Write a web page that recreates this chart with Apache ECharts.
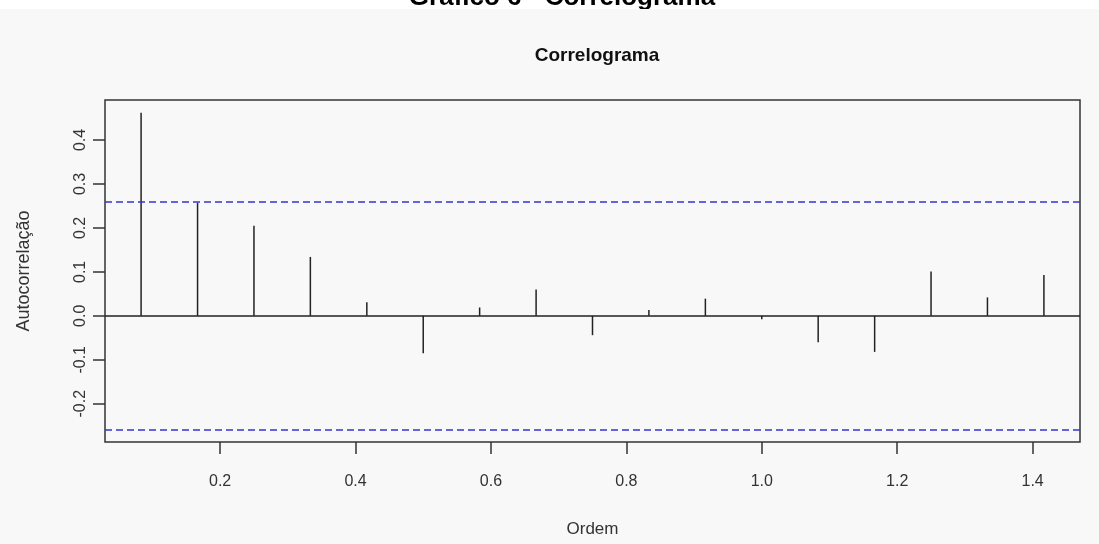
<!DOCTYPE html>
<html>
<head>
<meta charset="utf-8">
<script src="https://cdn.jsdelivr.net/npm/echarts@6/dist/echarts.min.js"></script>
<style>html,body{margin:0;padding:0;background:#fff}#c{width:1099px;height:544px}</style>
</head>
<body>
<div id="c"></div>
<script>
// Data
const lags = [0.0833, 0.1667, 0.25, 0.3333, 0.4167, 0.5, 0.5833, 0.6667, 0.75, 0.8333, 0.9167, 1.0, 1.0833, 1.1667, 1.25, 1.3333, 1.4167];
const acf  = [0.462, 0.257, 0.205, 0.134, 0.031, -0.085, 0.019, 0.060, -0.044, 0.013, 0.039, -0.008, -0.060, -0.082, 0.101, 0.042, 0.093];
const ciLimit = 0.257;
const xTicks = [0.2, 0.4, 0.6, 0.8, 1.0, 1.2, 1.4];
const yTicks = [-0.2, -0.1, 0.0, 0.1, 0.2, 0.3, 0.4];
const chartTitle = 'Correlograma';
const pageTitle = 'Gráfico 6 - Correlograma';
const xName = 'Ordem';
const yName = 'Autocorrelação';

const FONT = '"Liberation Sans", Arial, sans-serif';
const chart = echarts.init(document.getElementById('c'), null, {renderer: 'canvas'});
const option = {
  backgroundColor: '#ffffff',
  animation: false,
  graphic: [
    {type: 'text', z: -101, style: {text: pageTitle, x: 562, y: -2, align: 'center', verticalAlign: 'middle', font: 'bold 26px ' + FONT, fill: '#000'}},
    {type: 'rect', z: -100, shape: {x: 0, y: 9, width: 1099, height: 535}, style: {fill: '#f8f8f8'}}
  ],
  title: {
    text: chartTitle, left: 592, top: 41, textAlign: 'center',
    textStyle: {fontFamily: FONT, fontSize: 19, fontWeight: 'bold', color: '#111'}
  },
  grid: {left: 105, right: 19, top: 100, bottom: 102, show: true, borderColor: '#333', borderWidth: 1.5, backgroundColor: 'transparent'},
  xAxis: {
    type: 'value', min: 0.03, max: 1.47,
    name: xName, nameLocation: 'middle', nameGap: 79,
    nameTextStyle: {fontFamily: FONT, fontSize: 17, color: '#333'},
    axisLine: {show: false, onZero: false},
    splitLine: {show: false},
    axisTick: {show: true, length: 12, customValues: xTicks, lineStyle: {color: '#333', width: 1.5}},
    axisLabel: {customValues: xTicks, formatter: v => v.toFixed(1), margin: 32, fontFamily: FONT, fontSize: 16, color: '#333'}
  },
  yAxis: {
    type: 'value', min: -0.287, max: 0.491,
    name: yName, nameLocation: 'middle', nameGap: 72, nameRotate: 90,
    nameTextStyle: {fontFamily: FONT, fontSize: 18, color: '#333'},
    axisLine: {show: false, onZero: false},
    splitLine: {show: false},
    axisTick: {show: true, length: 12, customValues: yTicks, lineStyle: {color: '#333', width: 1.5}},
    axisLabel: {customValues: yTicks, formatter: v => v.toFixed(1), rotate: 90, margin: 16, fontFamily: FONT, fontSize: 16, color: '#333'}
  },
  series: [{
    type: 'custom',
    data: lags.map((x, i) => [x, acf[i]]),
    renderItem: function (params, api) {
      const x = api.value(0), y = api.value(1);
      const p0 = api.coord([x, 0]);
      const p1 = api.coord([x, y]);
      return {type: 'line', shape: {x1: p0[0], y1: p0[1], x2: p1[0], y2: p1[1]}, style: {stroke: '#222', lineWidth: 1.5}};
    },
    markLine: {
      silent: true, symbol: 'none', label: {show: false},
      data: [
        {yAxis: 0, lineStyle: {color: '#222', type: 'solid', width: 1.5}},
        {yAxis: ciLimit, lineStyle: {color: '#3434cc', type: [7, 4], width: 1.5}},
        {yAxis: -ciLimit, lineStyle: {color: '#3434cc', type: [7, 4], width: 1.5}}
      ]
    }
  }]
};
chart.setOption(option);
</script>
</body>
</html>
